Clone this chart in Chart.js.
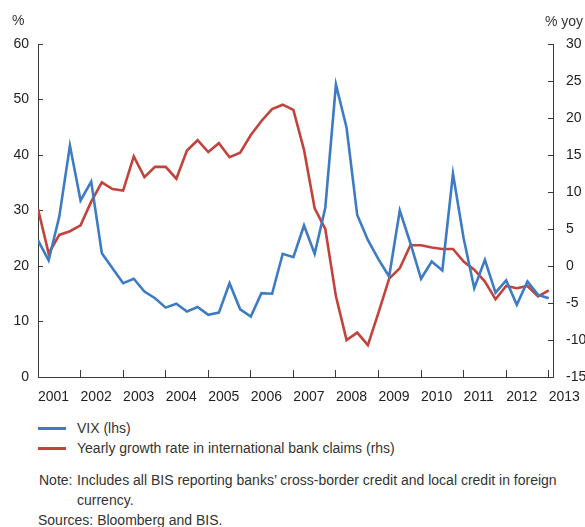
<!DOCTYPE html>
<html>
<head>
<meta charset="utf-8">
<script src="https://cdn.jsdelivr.net/npm/chart.js@4"></script>
<style>
	body { margin: 0; background: #fff; font-family: "Liberation Sans", Arial, sans-serif; color: #333; }
	#wrap { position: relative; width: 585px; height: 527px; overflow: hidden; }
	#chart { position: absolute; left: 0; top: 0; }
	.unit { position: absolute; font-size: 14px; line-height: 16px; }
	.legend { position: absolute; left: 38px; top: 418px; font-size: 14px; line-height: 20px; }
	.legend div { position: relative; padding-left: 39px; }
	.legend span { position: absolute; left: 0; top: 9px; width: 28px; height: 3px; }
	.note { position: absolute; left: 38px; top: 470px; font-size: 14px; line-height: 20px; }
	.note .row { position: relative; padding-left: 39px; }
	.note .row b { position: absolute; left: 1px; font-weight: normal; }
</style>
</head>
<body>
<div id="wrap">
	<canvas id="chart" width="585" height="410"></canvas>
	<div class="unit" style="left:12px; top:12px">%</div>
	<div class="unit" style="left:545px; top:13px">% yoy</div>
	<div class="legend" id="legend"></div>
	<div class="note">
		<div class="row"><b>Note:</b>Includes all BIS reporting banks’ cross-border credit and local credit in foreign<br>currency.</div>
		<div>Sources: Bloomberg and BIS.</div>
	</div>
</div>
<script>
// quarterly observations, 2001Q1 .. 2013Q1
const quarters = [
	'2001Q1', '2001Q2', '2001Q3', '2001Q4', '2002Q1', '2002Q2', '2002Q3', '2002Q4',
	'2003Q1', '2003Q2', '2003Q3', '2003Q4', '2004Q1', '2004Q2', '2004Q3', '2004Q4',
	'2005Q1', '2005Q2', '2005Q3', '2005Q4', '2006Q1', '2006Q2', '2006Q3', '2006Q4',
	'2007Q1', '2007Q2', '2007Q3', '2007Q4', '2008Q1', '2008Q2', '2008Q3', '2008Q4',
	'2009Q1', '2009Q2', '2009Q3', '2009Q4', '2010Q1', '2010Q2', '2010Q3', '2010Q4',
	'2011Q1', '2011Q2', '2011Q3', '2011Q4', '2012Q1', '2012Q2', '2012Q3', '2012Q4',
	'2013Q1',
];
const vix = [
	24.6, 21.0, 28.9, 41.7, 31.8, 35.2, 22.3, 19.6, 16.9, 17.7, 15.4, 14.2,
	12.5, 13.2, 11.8, 12.6, 11.2, 11.6, 16.9, 12.2, 10.9, 15.1, 15.0, 22.2,
	21.6, 27.3, 22.2, 30.5, 52.7, 44.9, 29.2, 24.7, 21.2, 18.1, 30.0, 24.1,
	17.7, 20.8, 19.2, 36.6, 25.0, 16.0, 21.1, 15.2, 17.4, 13.0, 17.2, 14.8,
	14.2,
];
const claimsGrowth = [
	7.7, 1.7, 4.2, 4.7, 5.5, 8.7, 11.3, 10.4, 10.2, 14.8, 12.0, 13.4,
	13.4, 11.8, 15.6, 17.0, 15.4, 16.6, 14.7, 15.3, 17.7, 19.6, 21.2, 21.8,
	21.1, 15.7, 7.8, 5.0, -4.1, -10.0, -9.0, -10.7, -6.3, -1.7, -0.3, 2.8,
	2.8, 2.5, 2.3, 2.3, 0.6, -0.5, -2.1, -4.5, -2.7, -3.0, -2.7, -4.1,
	-3.3,
];
const yearTicks = [2001, 2002, 2003, 2004, 2005, 2006, 2007, 2008, 2009, 2010, 2011, 2012, 2013];
const leftTicks = [0, 10, 20, 30, 40, 50, 60];
const rightTicks = [-15, -10, -5, 0, 5, 10, 15, 20, 25, 30];

const seriesLabels = ['VIX (lhs)', 'Yearly growth rate in international bank claims (rhs)'];
const colors = ['#3d7cc4', '#c3423c'];

// '2004Q3' -> 2004.5 so the linear x axis can put year ticks on quarter starts
const qx = q => Number(q.slice(0, 4)) + (Number(q.slice(5)) - 1) / 4;
const points = vals => vals.map((v, i) => ({ x: qx(quarters[i]), y: v }));

const axisColor = '#3a3a3a';
const font = { family: '"Liberation Sans", Arial, sans-serif', size: 14 };
const fixed = list => scale => { scale.ticks = list.map(value => ({ value })); };

new Chart(document.getElementById('chart'), {
	type: 'line',
	data: {
		datasets: [
			{ label: seriesLabels[0], data: points(vix), yAxisID: 'yL', borderColor: colors[0], borderWidth: 2.6, pointRadius: 0, tension: 0 },
			{ label: seriesLabels[1], data: points(claimsGrowth), yAxisID: 'yR', borderColor: colors[1], borderWidth: 2.6, pointRadius: 0, tension: 0 },
		],
	},
	options: {
		responsive: false,
		animation: false,
		layout: { padding: { top: 44, left: 0, right: 0, bottom: 0 } },
		plugins: { legend: { display: false }, tooltip: { enabled: false } },
		scales: {
			x: {
				type: 'linear', min: 2001, max: 2013.1,
				afterBuildTicks: fixed(yearTicks),
				// left-aligned year labels: the last one hangs past the plot, don't let it squeeze the chart
				afterFit: s => { s.height = 33; s.paddingLeft = 0; s.paddingRight = 0; },
				ticks: { color: '#222', font, align: 'start', autoSkip: false, maxRotation: 0, padding: 19, callback: v => String(v) },
				grid: { drawOnChartArea: false, drawTicks: true, tickLength: -7, color: axisColor },
				border: { color: axisColor, width: 1 },
			},
			yL: {
				position: 'left', min: 0, max: 60,
				afterBuildTicks: fixed(leftTicks),
				afterFit: s => { s.width = 38; },
				ticks: { color: '#222', font, padding: 14 },
				grid: { drawOnChartArea: false, drawTicks: true, tickLength: -5, color: axisColor },
				border: { color: axisColor, width: 1 },
			},
			yR: {
				position: 'right', min: -15, max: 30,
				afterBuildTicks: fixed(rightTicks),
				afterFit: s => { s.width = 32; },
				ticks: { color: '#222', font, padding: 18 },
				grid: { drawOnChartArea: false, drawTicks: true, tickLength: -5, color: axisColor },
				border: { color: axisColor, width: 1 },
			},
		},
	},
});

document.getElementById('legend').innerHTML = seriesLabels
	.map((l, i) => `<div><span style="background:${colors[i]}"></span>${l}</div>`).join('');
</script>
</body>
</html>
